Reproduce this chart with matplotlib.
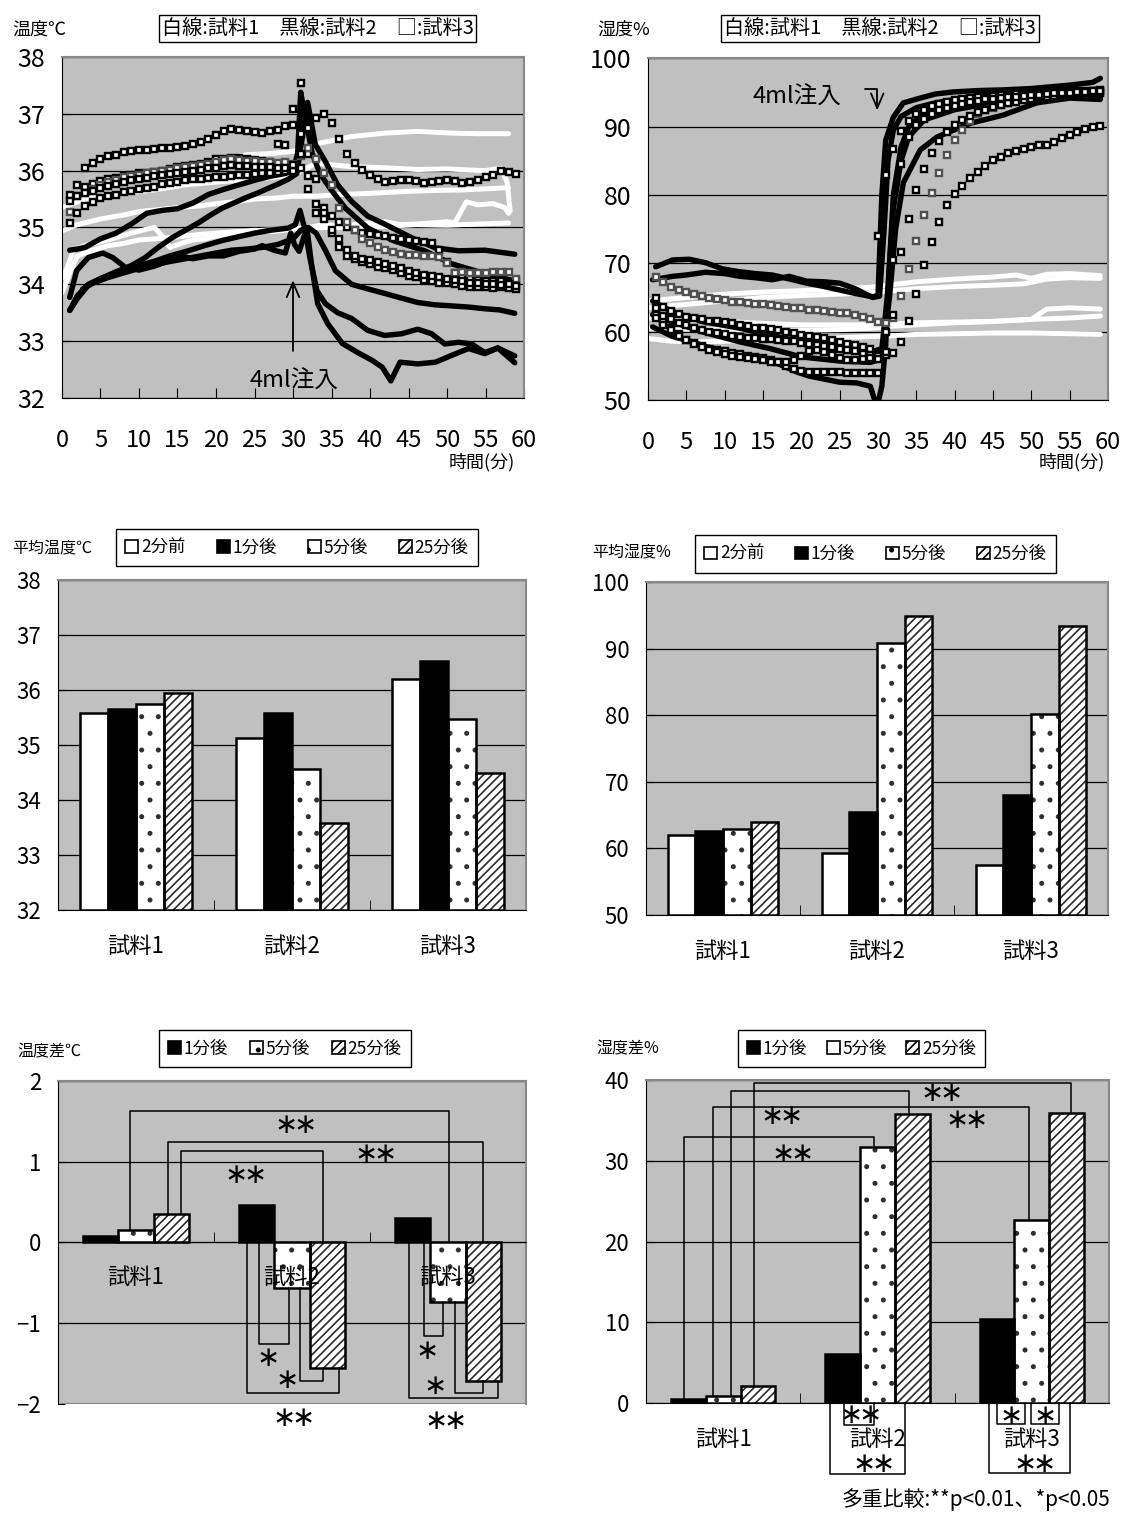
import numpy as np
import matplotlib
matplotlib.use("Agg")
import matplotlib.pyplot as plt
from matplotlib.patches import Patch, Rectangle

JP = ["Noto Sans CJK JP", "DejaVu Sans"]
NUM = ["Liberation Sans Narrow", "Noto Sans CJK JP", "DejaVu Sans"]
plt.rcParams["font.family"] = JP
plt.rcParams["hatch.linewidth"] = 1.2

BG = "#c0c0c0"
FRAME = "#888888"
nan = np.nan

# ---------------- time series (minutes) ----------------
minutes = np.arange(1, 60)

# 試料3 (squares), temperature, one value per minute 1..59
temp_sq1 = [nan, nan, 36.04, 36.14, 36.20, 36.25, 36.27, 36.33, 36.35, 36.36,
            36.37, 36.38, 36.39, 36.40, 36.41, 36.43, 36.47, 36.50, 36.56, 36.63,
            36.70, 36.74, 36.71, 36.69, 36.68, 36.67, 36.69, 36.72, 36.78, 37.08,
            37.55, 36.75, 36.93, 37.00, 36.84, 36.56, 36.30, 36.14, 36.02, 35.93,
            35.85, 35.80, 35.82, 35.83, 35.83, 35.82, 35.78, 35.80, 35.82, 35.83,
            35.82, 35.78, 35.80, 35.84, 35.88, 35.93, 36.00, 35.97, 35.94]
temp_sq2 = [35.58, 35.75, 35.72, 35.76, 35.82, 35.85, 35.87, 35.90, 35.93, 35.95,
            35.96, 35.98, 36.00, 36.03, 36.06, 36.09, 36.10, 36.12, 36.15, 36.20,
            36.21, 36.23, 36.22, 36.20, 36.18, 36.17, 36.15, 36.47, 36.45, 36.80,
            36.65, 36.30, 35.42, 35.35, 35.20, 35.10, 35.00, 34.95, 34.90, 34.88,
            34.86, 34.85, 34.82, 34.80, 34.78, 34.76, 34.75, 34.73, 34.60, 34.40,
            34.20, 34.15, 34.10, 34.08, 34.06, 34.05, 34.05, 34.04, 34.06]
temp_sq3 = [35.27, 35.55, 35.60, 35.68, 35.75, 35.80, 35.84, 35.88, 35.90, 35.93,
            35.95, 35.97, 36.00, 36.02, 36.04, 36.06, 36.08, 36.10, 36.12, 36.15,
            36.18, 36.20, 36.18, 36.17, 36.17, 36.16, 36.15, 36.14, 36.15, 36.12,
            36.25, 36.40, 36.20, 35.95, 35.75, 35.35, 35.10, 34.95, 34.80, 34.72,
            34.65, 34.60, 34.56, 34.54, 34.52, 34.52, 34.50, 34.50, 34.48, 34.38,
            34.20, 34.22, 34.20, 34.20, 34.20, 34.22, 34.22, 34.22, 34.10]
temp_sq4 = [35.08, 35.26, 35.38, 35.45, 35.52, 35.55, 35.58, 35.62, 35.65, 35.67,
            35.70, 35.72, 35.76, 35.78, 35.80, 35.83, 35.85, 35.86, 35.87, 35.88,
            35.89, 35.90, 35.92, 35.93, 35.94, 35.95, 35.96, 35.97, 35.99, 36.00,
            36.05, 35.68, 35.85, 35.25, 34.90, 34.65, 34.50, 34.45, 34.40, 34.35,
            34.30, 34.28, 34.25, 34.20, 34.15, 34.12, 34.08, 34.05, 34.03, 34.02,
            34.00, 33.97, 33.95, 33.96, 33.95, 33.93, 33.95, 33.93, 33.92]
temp_sq5 = [35.46, 35.55, 35.60, 35.65, 35.70, 35.73, 35.76, 35.80, 35.83, 35.85,
            35.87, 35.90, 35.92, 35.94, 35.95, 35.97, 36.00, 36.02, 36.04, 36.05,
            36.08, 36.10, 36.08, 36.08, 36.07, 36.06, 36.06, 36.05, 36.05, 36.10,
            36.30, 35.90, 35.25, 35.15, 34.95, 34.80, 34.60, 34.50, 34.45, 34.42,
            34.40, 34.36, 34.32, 34.28, 34.24, 34.20, 34.17, 34.14, 34.12, 34.10,
            34.07, 34.05, 34.03, 34.02, 34.00, 34.00, 33.98, 34.00, 33.97]

# 試料2 (black lines), temperature
temp_blk1_t = [1, 2, 3, 5, 7, 9, 11, 13, 15, 17, 19, 21, 23, 25, 27, 29, 30, 30.6, 31, 31.5,
               32.5, 33.5, 34.8, 36.8, 39.7, 43.2, 47.1, 50.6, 54.9, 58.8]
temp_blk1 = [34.6, 34.62, 34.65, 34.8, 34.9, 35.06, 35.25, 35.3, 35.33, 35.43, 35.58, 35.67,
             35.75, 35.83, 35.9, 35.95, 36.0, 36.3, 37.38, 37.0, 36.3, 35.95, 35.69, 35.34,
             34.99, 34.76, 34.59, 34.36, 34.19, 34.06]
temp_blk2_t = [1, 2, 3.4, 5, 7, 9, 10.8, 12.5, 14.3, 16, 17.7, 19.3, 20.8, 22.3, 23.8, 25.3,
               26.8, 28, 29.4, 30.5, 31, 31.9, 32.9, 34.2, 35.8, 37.6, 39.7, 41.9, 45.4, 48.5,
               51.5, 54.9, 58.8]
temp_blk2 = [33.54, 33.75, 33.98, 34.1, 34.22, 34.33, 34.47, 34.65, 34.82, 34.95, 35.08, 35.22,
             35.34, 35.43, 35.52, 35.6, 35.69, 35.76, 35.85, 35.95, 36.4, 37.2, 36.46, 36.16,
             35.75, 35.46, 35.2, 35.06, 34.82, 34.64, 34.59, 34.6, 34.53]
temp_blk3_t = [1, 1.9, 3.4, 5.3, 6.6, 8.2, 10, 12, 14, 15.5, 17, 19, 21, 23, 25, 26, 27.5, 29,
               29.7, 30.2, 30.8, 31.8, 32.4, 33.2, 34.5, 36.4, 38.4, 40.3, 41.6, 42.7, 43.9,
               46.2, 48.5, 50.6, 52.8, 54.9, 56.6, 58.8]
temp_blk3 = [33.77, 34.24, 34.47, 34.55, 34.47, 34.3, 34.25, 34.32, 34.42, 34.5, 34.45, 34.5,
             34.5, 34.58, 34.62, 34.68, 34.6, 34.55, 34.9, 34.7, 34.58, 34.99, 34.36, 33.66,
             33.31, 32.96, 32.8, 32.66, 32.54, 32.3, 32.63, 32.6, 32.63, 32.75, 32.87, 32.78,
             32.88, 32.74]
temp_blk4_t = [1, 2, 3.4, 5, 7.8, 10, 12.1, 14, 16.4, 18.5, 20.8, 23, 25, 27, 29.4, 30.3, 30.9,
               31.6, 32.2, 33.1, 34.2, 35.8, 37.6, 39.7, 41.9, 44.1, 46.2, 48, 49.7, 51.5,
               53.2, 54.9, 56.6, 58.8]
temp_blk4 = [33.54, 33.8, 34.0, 34.1, 34.24, 34.33, 34.41, 34.5, 34.59, 34.68, 34.77, 34.84,
             34.9, 34.95, 34.99, 35.05, 35.3, 34.94, 34.46, 33.89, 33.66, 33.5, 33.4, 33.19,
             33.1, 33.13, 33.21, 33.13, 32.95, 32.98, 32.95, 32.8, 32.88, 32.62]
temp_blk5_t = [2.7, 4, 6, 8, 10, 12, 14, 16, 18, 20, 22, 24, 26, 28, 30, 31, 32, 33, 34.2,
               35.5, 37.6, 39.7, 41.9, 44, 46.2, 48.4, 50.6, 52.8, 54.9, 56.8, 58.8]
temp_blk5 = [33.92, 34.02, 34.12, 34.2, 34.28, 34.35, 34.4, 34.45, 34.5, 34.55, 34.6, 34.62,
             34.65, 34.7, 34.8, 34.95, 35.0, 34.9, 34.6, 34.24, 34.0, 33.92, 33.84, 33.76,
             33.68, 33.64, 33.62, 33.6, 33.57, 33.55, 33.49]

# 試料1 (white lines), temperature
temp_wht1_t = [0, 3, 6, 9, 12, 16, 21, 25, 30, 33, 37.6, 42, 46.2, 50, 54.9, 57, 57.8, 58.2]
temp_wht1 = [35.35, 35.5, 35.57, 35.62, 35.66, 35.75, 35.81, 35.85, 35.92, 36.13, 36.07,
             36.05, 36.02, 36.03, 36.0, 36.04, 35.8, 35.29]
temp_wht2_t = [21, 24, 27, 30, 33, 37.6, 42, 46.2, 50.6, 54, 58]
temp_wht2 = [36.2, 36.28, 36.3, 36.34, 36.47, 36.6, 36.66, 36.69, 36.66, 36.65, 36.65]
temp_wht3_t = [0, 2, 5, 8, 10, 13, 15, 18, 20, 23, 25, 28, 30, 33, 36, 40, 44, 48, 52, 55, 58]
temp_wht3 = [34.94, 35.05, 35.15, 35.22, 35.28, 35.32, 35.35, 35.38, 35.42, 35.46, 35.5,
             35.52, 35.55, 35.55, 35.58, 35.6, 35.63, 35.65, 35.66, 35.68, 35.7]
temp_wht4_t = [0, 0.7, 1.5, 3, 5, 7, 9, 11, 12, 13, 14, 15.5, 17, 18.5, 20, 22.5, 25, 27.5,
               30, 32, 34, 36, 38, 40, 42, 44, 46, 48, 50, 51, 52.5, 54, 56, 57.5, 58]
temp_wht4 = [34.1, 34.3, 34.6, 34.68, 34.75, 34.82, 34.9, 34.97, 35.0, 34.85, 34.65, 34.72,
             34.78, 34.8, 34.85, 34.9, 34.95, 34.93, 34.97, 35.0, 35.05, 35.02, 35.05, 35.08,
             35.1, 35.05, 35.06, 35.08, 35.1, 35.08, 35.45, 35.4, 35.42, 35.35, 35.25]
temp_wht5_t = [0, 1, 2, 4, 6, 8, 10, 14, 18, 22, 26, 30, 34, 38, 42, 46, 50, 54, 58]
temp_wht5 = [33.85, 34.2, 34.5, 34.6, 34.68, 34.72, 34.78, 34.82, 34.88, 34.92, 34.95, 34.98,
             35.0, 35.0, 35.02, 35.05, 35.04, 35.06, 35.08]

# 試料3 (squares), humidity, one value per minute 1..59
hum_sq1 = [68.0, 67.3, 66.6, 66.1, 65.8, 65.5, 65.2, 65.0, 64.8, 64.6,
           64.4, 64.3, 64.2, 64.1, 64.0, 63.9, 63.8, 63.6, 63.5, 63.4,
           63.2, 63.1, 63.0, 62.9, 62.8, 62.7, 62.4, 62.1, 61.8, 61.4,
           61.3, 62.0, 65.2, 69.2, 73.3, 77.1, 80.3, 83.3, 85.8, 88.0,
           89.5, 90.8, 91.8, 92.4, 92.8, 93.2, 93.5, 93.8, 94.0, 94.2,
           94.4, 94.5, 94.6, 94.7, 94.8, 94.9, 95.0, 95.0, 95.1]
hum_sq2 = [62.5, 61.5, 60.5, 59.6, 58.8, 58.3, 57.9, 57.5, 57.3, 57.1,
           56.9, 56.7, 56.5, 56.3, 56.1, 55.8, 55.5, 55.0, 54.6, 54.2,
           54.1, 54.1, 54.1, 54.1, 54.1, 54.0, 54.0, 54.0, 53.9, 54.0,
           56.6, 56.9, 58.5, 61.5, 65.5, 69.8, 73.2, 76.1, 78.5, 80.2,
           81.4, 82.5, 83.4, 84.3, 85.1, 85.6, 86.1, 86.5, 86.8, 87.1,
           87.3, 87.4, 87.8, 88.3, 88.8, 89.3, 89.7, 90.0, 90.1]
hum_sq3 = [65.0, 63.6, 63.0, 62.6, 62.2, 62.0, 61.8, 61.6, 61.5, 61.4,
           61.2, 61.0, 60.8, 60.6, 60.5, 60.4, 60.2, 60.0, 59.8, 59.5,
           59.3, 59.2, 59.0, 58.8, 58.5, 58.2, 58.0, 57.7, 57.4, 74.0,
           83.0, 86.8, 89.4, 90.8, 91.8, 92.5, 93.0, 93.4, 93.7, 93.9,
           94.1, 94.2, 94.3, 94.4, 94.5, 94.6, 94.7, 94.8, 94.8, 94.9,
           95.0, 95.0, 95.1, 95.1, 95.2, 95.2, 95.3, 95.3, 95.4]
hum_sq4 = [63.5, 62.3, 61.8, 61.3, 61.0, 60.6, 60.3, 60.0, 59.8, 59.6,
           59.4, 59.2, 59.1, 59.0, 58.9, 58.9, 58.8, 58.7, 58.6, 58.4,
           58.2, 58.0, 57.9, 57.7, 57.5, 57.3, 57.1, 56.8, 56.6, 56.4,
           57.0, 62.5, 71.7, 76.5, 80.8, 83.8, 86.2, 87.9, 89.2, 90.2,
           91.0, 91.6, 92.1, 92.5, 92.9, 93.2, 93.5, 93.7, 93.9, 94.1,
           94.3, 94.4, 94.5, 94.6, 94.7, 94.8, 94.9, 95.0, 95.0]
hum_sq5 = [62.0, 61.0, 60.2, 59.4, 58.8, 58.2, 57.7, 57.3, 57.0, 56.7,
           56.5, 56.3, 56.1, 56.0, 55.8, 55.6, 55.5, 55.5, 55.8, 56.5,
           57.2, 57.3, 57.0, 56.6, 56.2, 55.8, 55.8, 56.0, 56.2, 56.0,
           60.0, 70.5, 84.5, 88.5, 90.3, 91.2, 91.9, 92.4, 92.8, 93.1,
           93.4, 93.6, 93.8, 94.0, 94.1, 94.2, 94.3, 94.4, 94.5, 94.6,
           94.7, 94.8, 94.9, 95.0, 95.0, 95.1, 95.1, 95.2, 95.2]

# 試料2 (black lines), humidity
hum_blk1_t = [1, 3.2, 5.4, 7.5, 9.7, 11.8, 14, 16.2, 18.5, 20.7, 23, 25, 27, 29.3, 30, 30.5, 31,
              32, 33.3, 35.5, 37.5, 39.8, 43, 46.3, 50, 55, 58, 59]
hum_blk1 = [69.5, 70.5, 70.6, 70.1, 69.2, 68.8, 68.5, 68.3, 67.7, 67.1, 66.6, 66.1, 65.6, 65.1,
            65.3, 80, 88, 91.4, 93.5, 94.2, 94.8, 95.1, 95.3, 95.4, 95.6, 96.1, 96.5, 97.1]
hum_blk2_t = [0.6, 3.2, 5, 7.5, 10, 12, 14, 16.2, 18.4, 20.7, 23, 25, 27, 29.3, 30.2, 30.8,
              31.3, 32, 33, 35, 37.5, 40, 45, 50, 55, 59]
hum_blk2 = [67.6, 68.1, 68.3, 68.7, 68.5, 68.1, 67.9, 67.6, 68.1, 67.4, 67.3, 67.1, 66.3, 65.0,
            65.2, 75, 85, 89.5, 91.5, 92.8, 93.5, 94.0, 94.6, 95.0, 95.3, 95.5]
hum_blk3_t = [0.6, 3.2, 5.5, 7.6, 9.7, 11.8, 14, 16.3, 17.8, 19.4, 21, 22.8, 25, 27.2, 29, 29.5,
              30, 30.5, 31, 31.5, 32, 33, 34, 36, 40, 45, 50, 55, 59]
hum_blk3 = [60.7, 59.3, 58.6, 57.8, 57.3, 56.8, 56.2, 55.6, 54.9, 54.1, 53.5, 53.1, 52.6, 52.5,
            52.0, 50.2, 49.5, 52, 58, 70, 80, 87, 90, 92, 93.2, 94, 94.5, 94.8, 95.0]
hum_blk4_t = [0.6, 3, 7, 12, 16, 20, 25, 29, 30.5, 31.5, 32.3, 33.3, 35.5, 37.7, 42, 46.3,
              50.7, 55, 59]
hum_blk4 = [62.5, 61.5, 60, 58.5, 57.5, 56.3, 55.7, 55.5, 56, 65, 75, 81.8, 86.6, 88.5, 90.5,
            91.7, 93.5, 94.2, 94.0]
hum_blk5_t = [0.6, 3, 7, 12, 16, 20, 25, 29, 30.5, 31.2, 32, 33, 34, 36, 40, 45, 50, 55, 59]
hum_blk5 = [64.5, 63, 61.5, 60.5, 59.5, 58.5, 57.5, 57, 57.5, 65, 78, 85, 88.5, 91, 92.5, 93.5,
            94.2, 94.5, 94.3]

# 試料1 (white lines), humidity
hum_wht1_t = [0, 5, 10, 15, 20, 25, 29, 32, 35, 40, 45, 48, 50, 52, 55, 59]
hum_wht1 = [64.5, 65.0, 65.5, 65.8, 66.0, 66.3, 66.5, 66.9, 67.3, 67.7, 68.0, 68.3, 67.8, 68.4,
            68.5, 68.2]
hum_wht2_t = [0, 5, 10, 15, 20, 25, 29, 32, 35, 40, 45, 49, 52, 55, 59]
hum_wht2 = [63.5, 64.0, 64.5, 65.0, 65.3, 65.5, 65.7, 66.0, 66.3, 66.6, 66.8, 67.0, 67.7, 67.9,
            67.8]
hum_wht3_t = [0, 5, 10, 15, 20, 25, 29, 32, 35, 40, 45, 50, 52, 55, 59]
hum_wht3 = [62.0, 61.7, 61.5, 61.2, 61.0, 61.0, 61.0, 61.1, 61.3, 61.4, 61.5, 61.8, 63.3, 63.5,
            63.3]
hum_wht4_t = [0, 5, 10, 15, 20, 25, 29, 32, 35, 40, 45, 50, 55, 59]
hum_wht4 = [60.5, 60.4, 60.3, 60.2, 60.2, 60.3, 60.5, 60.8, 61.0, 61.3, 61.5, 61.8, 62.0, 62.3]
hum_wht5_t = [0, 3, 6, 10, 15, 20, 25, 29, 32, 35, 40, 45, 50, 55, 59]
hum_wht5 = [59.0, 58.6, 58.5, 58.6, 58.8, 59.0, 59.1, 59.3, 59.4, 59.6, 59.7, 59.8, 59.8, 59.7,
            59.6]

# ---------------- bar data ----------------
samples = ["試料1", "試料2", "試料3"]
mean_series = ["2分前", "1分後", "5分後", "25分後"]
diff_series = ["1分後", "5分後", "25分後"]

mean_temp = {"2分前": [35.58, 35.12, 36.21], "1分後": [35.66, 35.59, 36.52],
             "5分後": [35.74, 34.56, 35.47], "25分後": [35.94, 33.58, 34.50]}
mean_hum = {"2分前": [62.0, 59.3, 57.5], "1分後": [62.6, 65.4, 68.0],
            "5分後": [62.9, 90.8, 80.2], "25分後": [64.0, 94.9, 93.4]}
diff_temp = {"1分後": [0.08, 0.46, 0.30], "5分後": [0.15, -0.57, -0.74],
             "25分後": [0.35, -1.56, -1.71]}
diff_hum = {"1分後": [0.5, 6.1, 10.4], "5分後": [0.9, 31.7, 22.7],
            "25分後": [2.06, 35.75, 35.9]}

# significance brackets: (group, bar, shift, group, bar, shift, level)
temp_brackets = [(0, 1, -0.036, 2, 1, 0.005, 1.63), (0, 2, -0.017, 2, 2, 0.0, 1.25),
                 (0, 2, 0.064, 1, 2, -0.025, 1.13), (1, 0, 0.015, 1, 1, -0.022, -1.26),
                 (1, 1, 0.05, 1, 2, -0.025, -1.71), (1, 0, -0.065, 1, 2, 0.075, -1.87),
                 (2, 0, 0.07, 2, 1, -0.034, -1.16), (2, 1, 0.045, 2, 2, 0.0, -1.86),
                 (2, 0, -0.025, 2, 2, 0.095, -1.93)]
temp_marks = [("**", 1.017, 1.45), ("**", 1.53, 1.10), ("**", 0.695, 0.83),
              ("*", 0.84, -1.43), ("*", 0.96, -1.70), ("**", 1.005, -2.17),
              ("*", 1.856, -1.34), ("*", 1.91, -1.78), ("**", 1.976, -2.21)]
hum_brackets = [(0, 0, -0.031, 1, 1, -0.021, 32.9), (0, 1, -0.066, 2, 1, -0.018, 36.7),
                (0, 1, 0.05, 1, 2, -0.021, 38.6), (0, 2, -0.025, 2, 2, 0.031, 39.6),
                (1, 0, 0.011, 1, 1, -0.021, -2.7), (1, 0, -0.085, 1, 2, -0.045, -8.74),
                (2, 0, 0.0, 2, 1, -0.042, -2.6), (2, 1, -0.004, 2, 2, -0.05, -2.6),
                (2, 0, -0.053, 2, 2, 0.019, -8.66)]
hum_marks = [("**", 0.445, 30.9), ("**", 1.57, 35.05), ("**", 0.37, 35.5),
             ("**", 1.41, 38.35), ("**", 0.886, -1.44), ("**", 0.967, -7.5),
             ("*", 1.86, -1.65), ("*", 2.08, -1.65), ("**", 2.01, -7.5)]

STYLE = {"2分前": dict(fc="white", hatch=None, hc="black"),
         "1分後": dict(fc="black", hatch=None, hc="black"),
         "5分後": dict(fc="white", hatch=".", hc="#303030"),
         "25分後": dict(fc="white", hatch="////", hc="#2a2a2a")}


def frame(ax, bottom_black=True):
    ax.set_facecolor(BG)
    for s in ["top", "right"]:
        ax.spines[s].set_color(FRAME)
        ax.spines[s].set_linewidth(1.5)
    ax.spines["left"].set_color("black")
    ax.spines["bottom"].set_color("black" if bottom_black else FRAME)
    ax.yaxis.grid(True, color="black", lw=0.9)
    ax.set_axisbelow(True)


def line_panel(ax, whites, blacks, squares, grey, ylim, yticks):
    frame(ax)
    for t, v in whites:
        ax.plot(t, v, color="white", lw=3.6, solid_capstyle="round", solid_joinstyle="round", zorder=2)
    for t, v in blacks:
        ax.plot(t, v, color="black", lw=3.9, solid_capstyle="round", solid_joinstyle="round", zorder=3)
    for i, v in enumerate(squares):
        ax.plot(minutes, v, ls="none", marker="s", ms=3.9, mfc="white",
                mec="#505050" if i == grey else "black", mew=1.7, zorder=4)
    ax.set_xlim(0, 60)
    ax.set_ylim(*ylim)
    ax.set_xticks(range(0, 61, 5))
    ax.set_yticks(yticks)
    ax.tick_params(axis="x", direction="in", length=7, pad=22, labelsize=17, labelfontfamily=NUM)
    ax.tick_params(axis="y", direction="in", length=5, pad=12, labelsize=18, labelfontfamily=NUM)


def draw_bars(ax, data, names, width, base=0.0):
    n = len(names)
    for k, name in enumerate(names):
        pos = np.arange(len(samples)) + (k - (n - 1) / 2) * width
        vals = np.array(data[name]) - base
        st = STYLE[name]
        ax.bar(pos, vals, width, bottom=base, color=st["fc"], edgecolor=st["hc"], lw=0,
               hatch=st["hatch"], zorder=3)
        ax.bar(pos, vals, width, bottom=base, fill=False, edgecolor="black", lw=1.8, zorder=4)


def legend_handles(names):
    return [Patch(facecolor=STYLE[n]["fc"], edgecolor="black", hatch=STYLE[n]["hatch"], lw=1.2,
                  label=n) for n in names]


def add_legend(fig, names, x0, x1, yc):
    leg = fig.legend(handles=legend_handles(names), loc="center", ncol=len(names), mode="expand",
                     bbox_to_anchor=(x0, yc - 0.01, x1 - x0, 0.02), fontsize=12.5,
                     handlelength=0.75, handleheight=0.75, handletextpad=0.15, borderpad=0.55,
                     fancybox=False, framealpha=1, edgecolor="black")
    leg.get_frame().set_linewidth(1.0)


def brackets(ax, data, names, width, specs, marks):
    n = len(names)
    for g1, b1, d1, g2, b2, d2, level in specs:
        x1 = g1 + (b1 - (n - 1) / 2) * width + d1
        x2 = g2 + (b2 - (n - 1) / 2) * width + d2
        v1 = data[names[b1]][g1]
        v2 = data[names[b2]][g2]
        if level > 0:
            e1, e2 = max(v1, 0), max(v2, 0)
        else:
            e1, e2 = min(v1, 0), min(v2, 0)
        ax.plot([x1, x1, x2, x2], [e1, level, level, e2], color="black", lw=1.1,
                clip_on=False, zorder=5)
    for s, x, y in marks:
        # math asterisks sit on the centre line and pack tightly
        ax.text(x, y, "$" + r"\!\!".join([r"\ast"] * len(s)) + "$", ha="center", va="center",
                fontsize=20, zorder=6, clip_on=False)


fig = plt.figure(figsize=(11.25, 15.15), dpi=100)

# ---------- top left: temperature time course ----------
ax1 = fig.add_axes([0.0551, 0.7373, 0.4107, 0.2251])
line_panel(ax1,
           [(temp_wht1_t, temp_wht1), (temp_wht2_t, temp_wht2), (temp_wht3_t, temp_wht3),
            (temp_wht4_t, temp_wht4), (temp_wht5_t, temp_wht5)],
           [(temp_blk1_t, temp_blk1), (temp_blk2_t, temp_blk2), (temp_blk3_t, temp_blk3),
            (temp_blk4_t, temp_blk4), (temp_blk5_t, temp_blk5)],
           [temp_sq1, temp_sq2, temp_sq3, temp_sq4, temp_sq5], 2, (32, 38), range(32, 39))
ax1.annotate("", xy=(30, 34.12), xytext=(30, 32.78),
             arrowprops=dict(arrowstyle="->,head_length=0.7,head_width=0.3", lw=1.3,
                             color="black", mutation_scale=15), zorder=6)
ax1.text(30.1, 32.3, "4ml注入", ha="center", va="center", fontsize=17, zorder=6)

# ---------- top right: humidity time course ----------
ax2 = fig.add_axes([0.576, 0.7360, 0.4089, 0.2254])
line_panel(ax2,
           [(hum_wht1_t, hum_wht1), (hum_wht2_t, hum_wht2), (hum_wht3_t, hum_wht3),
            (hum_wht4_t, hum_wht4), (hum_wht5_t, hum_wht5)],
           [(hum_blk1_t, hum_blk1), (hum_blk2_t, hum_blk2), (hum_blk3_t, hum_blk3),
            (hum_blk4_t, hum_blk4), (hum_blk5_t, hum_blk5)],
           [hum_sq1, hum_sq2, hum_sq3, hum_sq4, hum_sq5], 0, (50, 100), range(50, 101, 10))
ax2.text(19.4, 94.3, "4ml注入", ha="center", va="center", fontsize=17, zorder=6)
ax2.annotate("", xy=(29.9, 92.0), xytext=(27.9, 95.5),
             arrowprops=dict(arrowstyle="->,head_length=0.7,head_width=0.3", lw=1.3,
                             color="black", mutation_scale=15,
                             connectionstyle="angle,angleA=0,angleB=90,rad=0"), zorder=6)

for x in [0.4578, 0.9822]:
    fig.text(x, 0.695, "時間(分)", ha="right", va="center", fontsize=13)
fig.text(0.0107, 0.9802, "温度℃", ha="left", va="center", fontsize=13)
fig.text(0.5307, 0.9802, "湿度%", ha="left", va="center", fontsize=13)
for xc in [0.2822, 0.7822]:
    fig.text(xc, 0.9815, "白線:試料1　黒線:試料2　□:試料3", ha="center", va="center",
             fontsize=14.5, bbox=dict(boxstyle="square,pad=0.15", fc="white", ec="black", lw=1))

# ---------- middle: mean bars ----------
for rect, data, ylim, yticks, label, lab_xy, leg in [
        ([0.0516, 0.3993, 0.416, 0.2178], mean_temp, (32, 38), range(32, 39), "平均温度℃",
         (0.0107, 0.6376), (0.0951, 0.4329, 0.6386)),
        ([0.5742, 0.3960, 0.4107, 0.2198], mean_hum, (50, 100), range(50, 101, 10), "平均湿度%",
         (0.5262, 0.635), (0.6098, 0.9467, 0.6343))]:
    ax = fig.add_axes(rect)
    frame(ax)
    draw_bars(ax, data, mean_series, 0.18, base=ylim[0])
    ax.set_xlim(-0.5, 2.5)
    ax.set_ylim(*ylim)
    ax.set_yticks(yticks)
    ax.set_xticks(range(3), samples)
    ax.set_xticks([0.5, 1.5], minor=True)
    ax.tick_params(axis="x", which="major", length=0, pad=18, labelsize=16)
    ax.tick_params(axis="x", which="minor", direction="in", length=7)
    ax.tick_params(axis="y", direction="in", length=5, pad=12, labelsize=16, labelfontfamily=NUM)
    fig.text(lab_xy[0], lab_xy[1], label, ha="left", va="center", fontsize=11.5)
    add_legend(fig, mean_series, *leg)

# ---------- bottom left: temperature differences ----------
ax5 = fig.add_axes([0.0516, 0.0733, 0.416, 0.2132])
frame(ax5)
ax5.spines["bottom"].set_position(("data", 0))
ax5.add_patch(Rectangle((0, 0), 1, 1, transform=ax5.transAxes, fill=False, ec=FRAME, lw=1.5,
                        zorder=1))
draw_bars(ax5, diff_temp, diff_series, 0.225)
ax5.set_xlim(-0.5, 2.5)
ax5.set_ylim(-2, 2)
ax5.set_yticks(range(-2, 3))
ax5.set_xticks([])
ax5.set_xticks([0.5, 1.5], minor=True)
ax5.tick_params(axis="x", which="minor", direction="in", length=7)
ax5.tick_params(axis="y", direction="in", length=5, pad=12, labelsize=16, labelfontfamily=NUM)
for i, s in enumerate(samples):
    ax5.text(i, -0.43, s, ha="center", va="center", fontsize=16, zorder=5)
brackets(ax5, diff_temp, diff_series, 0.225, temp_brackets, temp_marks)
fig.text(0.0151, 0.3056, "温度差℃", ha="left", va="center", fontsize=11.5)
add_legend(fig, diff_series, 0.1333, 0.3733, 0.3079)

# ---------- bottom right: humidity differences ----------
ax6 = fig.add_axes([0.5742, 0.0739, 0.4116, 0.2132])
frame(ax6)
draw_bars(ax6, diff_hum, diff_series, 0.225)
ax6.set_xlim(-0.5, 2.5)
ax6.set_ylim(0, 40)
ax6.set_yticks(range(0, 41, 10))
ax6.set_xticks(range(3), samples)
ax6.set_xticks([0.5, 1.5], minor=True)
ax6.tick_params(axis="x", which="major", length=0, pad=18, labelsize=16)
ax6.tick_params(axis="x", which="minor", direction="in", length=7)
ax6.tick_params(axis="y", direction="in", length=5, pad=12, labelsize=16, labelfontfamily=NUM)
brackets(ax6, diff_hum, diff_series, 0.225, hum_brackets, hum_marks)
fig.text(0.5298, 0.3076, "湿度差%", ha="left", va="center", fontsize=11.5)
add_legend(fig, diff_series, 0.648, 0.8836, 0.3079)

fig.text(0.9867, 0.0099, "多重比較:**p<0.01、*p<0.05", ha="right", va="center", fontsize=15)

fig.savefig("out.png", dpi=100, facecolor="white")
